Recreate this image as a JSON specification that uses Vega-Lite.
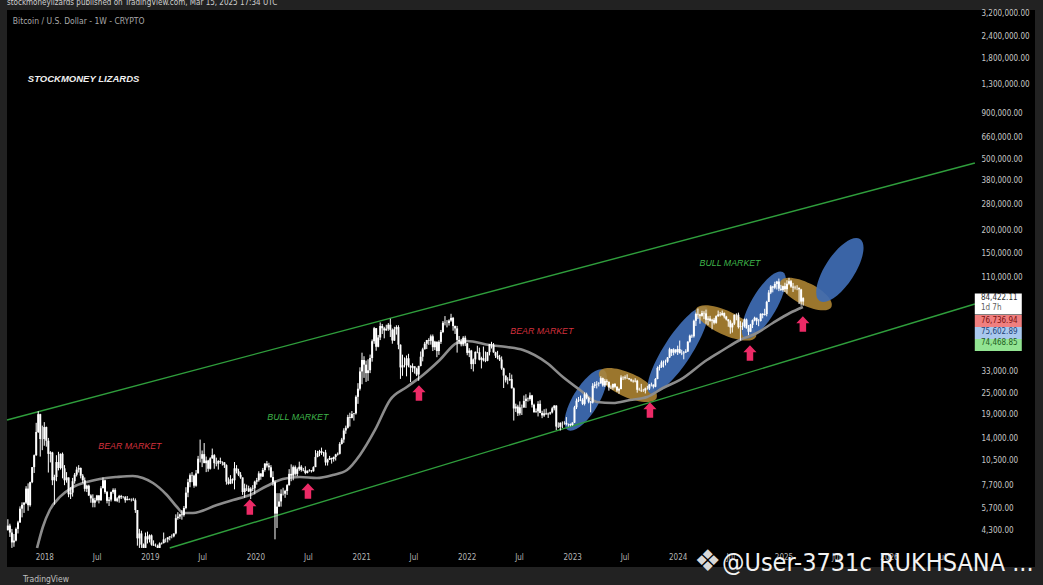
{
"$schema":"https://vega.github.io/schema/vega-lite/v6.json",
"autosize":"none",
"width":1028,"height":557,
"padding":{"left":7,"top":10,"right":8,"bottom":18},
"background":"#222222",
"config":{"view":{"fill":"black","stroke":null}},
"datasets":{
"btc":[
{"t":"2017-08-28","o":4340,"h":4980,"l":4300,"c":4590},
{"t":"2017-09-04","o":4590,"h":4700,"l":3970,"c":4200},
{"t":"2017-09-11","o":4200,"h":4400,"l":3450,"c":3700},
{"t":"2017-09-18","o":3700,"h":4120,"l":3500,"c":3790},
{"t":"2017-09-25","o":3790,"h":4480,"l":3750,"c":4400},
{"t":"2017-10-02","o":4400,"h":4880,"l":4150,"c":4780},
{"t":"2017-10-09","o":4780,"h":5870,"l":4750,"c":5700},
{"t":"2017-10-16","o":5700,"h":6180,"l":5100,"c":5990},
{"t":"2017-10-23","o":5990,"h":6200,"l":5400,"c":6150},
{"t":"2017-10-30","o":6150,"h":7600,"l":6050,"c":7370},
{"t":"2017-11-06","o":7370,"h":7880,"l":5550,"c":5960},
{"t":"2017-11-13","o":5960,"h":8050,"l":5850,"c":8000},
{"t":"2017-11-20","o":8000,"h":9700,"l":7900,"c":9700},
{"t":"2017-11-27","o":9700,"h":11400,"l":9000,"c":11300},
{"t":"2017-12-04","o":11300,"h":17100,"l":11200,"c":15200},
{"t":"2017-12-11","o":15200,"h":19850,"l":15000,"c":19100},
{"t":"2017-12-18","o":19100,"h":19200,"l":11100,"c":13900},
{"t":"2017-12-25","o":13900,"h":16500,"l":12050,"c":13880},
{"t":"2018-01-01","o":13880,"h":17250,"l":12750,"c":16200},
{"t":"2018-01-08","o":16200,"h":16300,"l":12600,"c":13600},
{"t":"2018-01-15","o":13600,"h":14100,"l":9050,"c":11500},
{"t":"2018-01-22","o":11500,"h":11900,"l":10300,"c":11700},
{"t":"2018-01-29","o":11700,"h":11800,"l":7700,"c":8200},
{"t":"2018-02-05","o":8200,"h":8800,"l":6000,"c":8550},
{"t":"2018-02-12","o":8550,"h":11300,"l":8100,"c":10350},
{"t":"2018-02-19","o":10350,"h":11800,"l":9300,"c":9600},
{"t":"2018-02-26","o":9600,"h":11550,"l":9400,"c":11500},
{"t":"2018-03-05","o":11500,"h":11700,"l":8400,"c":9550},
{"t":"2018-03-12","o":9550,"h":9950,"l":7700,"c":8200},
{"t":"2018-03-19","o":8200,"h":9100,"l":7950,"c":8500},
{"t":"2018-03-26","o":8500,"h":8500,"l":6600,"c":6850},
{"t":"2018-04-02","o":6850,"h":7500,"l":6450,"c":7000},
{"t":"2018-04-09","o":7000,"h":8450,"l":6650,"c":8100},
{"t":"2018-04-16","o":8100,"h":9000,"l":7850,"c":8800},
{"t":"2018-04-23","o":8800,"h":9750,"l":8600,"c":9400},
{"t":"2018-04-30","o":9400,"h":9950,"l":9050,"c":9600},
{"t":"2018-05-07","o":9600,"h":9650,"l":8400,"c":8700},
{"t":"2018-05-14","o":8700,"h":8880,"l":7900,"c":8200},
{"t":"2018-05-21","o":8200,"h":8500,"l":7100,"c":7350},
{"t":"2018-05-28","o":7350,"h":7750,"l":7050,"c":7650},
{"t":"2018-06-04","o":7650,"h":7750,"l":6700,"c":6750},
{"t":"2018-06-11","o":6750,"h":6850,"l":6150,"c":6500},
{"t":"2018-06-18","o":6500,"h":6850,"l":5800,"c":6150},
{"t":"2018-06-25","o":6150,"h":6550,"l":5800,"c":6350},
{"t":"2018-07-02","o":6350,"h":6800,"l":6250,"c":6750},
{"t":"2018-07-09","o":6750,"h":6780,"l":6100,"c":6350},
{"t":"2018-07-16","o":6350,"h":7600,"l":6300,"c":7400},
{"t":"2018-07-23","o":7400,"h":8500,"l":7400,"c":8200},
{"t":"2018-07-30","o":8200,"h":8250,"l":6900,"c":7050},
{"t":"2018-08-06","o":7050,"h":7150,"l":6100,"c":6300},
{"t":"2018-08-13","o":6300,"h":6620,"l":5900,"c":6400},
{"t":"2018-08-20","o":6400,"h":7100,"l":6250,"c":7050},
{"t":"2018-08-27","o":7050,"h":7400,"l":6900,"c":7250},
{"t":"2018-09-03","o":7250,"h":7400,"l":6250,"c":6300},
{"t":"2018-09-10","o":6300,"h":6600,"l":6200,"c":6500},
{"t":"2018-09-17","o":6500,"h":6800,"l":6150,"c":6700},
{"t":"2018-09-24","o":6700,"h":6800,"l":6450,"c":6600},
{"t":"2018-10-01","o":6600,"h":6700,"l":6500,"c":6600},
{"t":"2018-10-08","o":6600,"h":6700,"l":6150,"c":6350},
{"t":"2018-10-15","o":6350,"h":6700,"l":6350,"c":6450},
{"t":"2018-10-22","o":6450,"h":6500,"l":6350,"c":6400},
{"t":"2018-10-29","o":6400,"h":6500,"l":6250,"c":6400},
{"t":"2018-11-05","o":6400,"h":6550,"l":6300,"c":6350},
{"t":"2018-11-12","o":6350,"h":6500,"l":5400,"c":5600},
{"t":"2018-11-19","o":5600,"h":5600,"l":3550,"c":3900},
{"t":"2018-11-26","o":3900,"h":4400,"l":3450,"c":4150},
{"t":"2018-12-03","o":4150,"h":4300,"l":3450,"c":3600},
{"t":"2018-12-10","o":3600,"h":3650,"l":3450,"c":3450},
{"t":"2018-12-17","o":3450,"h":4200,"l":3450,"c":4000},
{"t":"2018-12-24","o":4000,"h":4250,"l":3650,"c":3850},
{"t":"2018-12-31","o":3850,"h":4100,"l":3700,"c":4050},
{"t":"2019-01-07","o":4050,"h":4100,"l":3550,"c":3600},
{"t":"2019-01-14","o":3600,"h":3800,"l":3550,"c":3550},
{"t":"2019-01-21","o":3550,"h":3650,"l":3500,"c":3550},
{"t":"2019-01-28","o":3550,"h":3600,"l":3450,"c":3450},
{"t":"2019-02-04","o":3450,"h":3700,"l":3450,"c":3650},
{"t":"2019-02-11","o":3650,"h":3700,"l":3600,"c":3670},
{"t":"2019-02-18","o":3670,"h":4200,"l":3650,"c":3850},
{"t":"2019-02-25","o":3850,"h":3900,"l":3700,"c":3850},
{"t":"2019-03-04","o":3850,"h":3950,"l":3700,"c":3950},
{"t":"2019-03-11","o":3950,"h":4000,"l":3800,"c":4000},
{"t":"2019-03-18","o":4000,"h":4100,"l":3900,"c":4000},
{"t":"2019-03-25","o":4000,"h":4150,"l":3950,"c":4150},
{"t":"2019-04-01","o":4150,"h":5300,"l":4100,"c":5050},
{"t":"2019-04-08","o":5050,"h":5450,"l":4950,"c":5150},
{"t":"2019-04-15","o":5150,"h":5350,"l":5000,"c":5300},
{"t":"2019-04-22","o":5300,"h":5600,"l":4950,"c":5250},
{"t":"2019-04-29","o":5250,"h":5900,"l":5150,"c":5750},
{"t":"2019-05-06","o":5750,"h":7500,"l":5650,"c":7000},
{"t":"2019-05-13","o":7000,"h":8350,"l":6600,"c":8000},
{"t":"2019-05-20","o":8000,"h":8950,"l":7500,"c":8750},
{"t":"2019-05-27","o":8750,"h":9100,"l":8000,"c":8700},
{"t":"2019-06-03","o":8700,"h":8800,"l":7450,"c":7650},
{"t":"2019-06-10","o":7650,"h":9350,"l":7550,"c":8950},
{"t":"2019-06-17","o":8950,"h":11200,"l":8950,"c":10800},
{"t":"2019-06-24","o":10800,"h":13800,"l":10300,"c":10800},
{"t":"2019-07-01","o":10800,"h":12000,"l":9700,"c":11450},
{"t":"2019-07-08","o":11450,"h":13200,"l":10300,"c":10200},
{"t":"2019-07-15","o":10200,"h":11100,"l":9100,"c":10550},
{"t":"2019-07-22","o":10550,"h":10650,"l":9150,"c":9500},
{"t":"2019-07-29","o":9500,"h":11000,"l":9400,"c":10850},
{"t":"2019-08-05","o":10850,"h":12300,"l":10800,"c":11300},
{"t":"2019-08-12","o":11300,"h":11450,"l":9500,"c":10200},
{"t":"2019-08-19","o":10200,"h":10950,"l":9800,"c":10150},
{"t":"2019-08-26","o":10150,"h":10600,"l":9400,"c":10500},
{"t":"2019-09-02","o":10500,"h":10950,"l":10100,"c":10350},
{"t":"2019-09-09","o":10350,"h":10450,"l":9900,"c":10300},
{"t":"2019-09-16","o":10300,"h":10350,"l":9600,"c":9950},
{"t":"2019-09-23","o":9950,"h":10050,"l":7750,"c":8050},
{"t":"2019-09-30","o":8050,"h":8500,"l":7750,"c":7850},
{"t":"2019-10-07","o":7850,"h":8750,"l":7800,"c":8300},
{"t":"2019-10-14","o":8300,"h":8400,"l":7850,"c":8200},
{"t":"2019-10-21","o":8200,"h":10350,"l":7300,"c":9550},
{"t":"2019-10-28","o":9550,"h":9950,"l":8950,"c":9200},
{"t":"2019-11-04","o":9200,"h":9500,"l":8650,"c":8800},
{"t":"2019-11-11","o":8800,"h":9100,"l":8350,"c":8500},
{"t":"2019-11-18","o":8500,"h":8500,"l":6800,"c":7050},
{"t":"2019-11-25","o":7050,"h":7850,"l":6550,"c":7400},
{"t":"2019-12-02","o":7400,"h":7750,"l":7150,"c":7400},
{"t":"2019-12-09","o":7400,"h":7650,"l":7050,"c":7100},
{"t":"2019-12-16","o":7100,"h":7500,"l":6450,"c":7350},
{"t":"2019-12-23","o":7350,"h":7700,"l":7150,"c":7400},
{"t":"2019-12-30","o":7400,"h":8150,"l":6850,"c":8050},
{"t":"2020-01-06","o":8050,"h":8450,"l":7750,"c":8200},
{"t":"2020-01-13","o":8200,"h":9200,"l":8050,"c":8950},
{"t":"2020-01-20","o":8950,"h":8950,"l":8250,"c":8600},
{"t":"2020-01-27","o":8600,"h":9600,"l":8550,"c":9350},
{"t":"2020-02-03","o":9350,"h":10200,"l":9150,"c":10150},
{"t":"2020-02-10","o":10150,"h":10500,"l":9650,"c":9900},
{"t":"2020-02-17","o":9900,"h":10250,"l":9300,"c":9680},
{"t":"2020-02-24","o":9680,"h":9950,"l":8450,"c":8550},
{"t":"2020-03-02","o":8550,"h":9200,"l":7650,"c":8000},
{"t":"2020-03-09","o":8000,"h":8200,"l":3850,"c":5350},
{"t":"2020-03-16","o":5350,"h":6950,"l":4450,"c":5850},
{"t":"2020-03-23","o":5850,"h":6950,"l":5850,"c":6250},
{"t":"2020-03-30","o":6250,"h":7300,"l":5850,"c":6900},
{"t":"2020-04-06","o":6900,"h":7450,"l":6750,"c":6900},
{"t":"2020-04-13","o":6900,"h":7250,"l":6550,"c":7150},
{"t":"2020-04-20","o":7150,"h":7800,"l":6800,"c":7700},
{"t":"2020-04-27","o":7700,"h":9450,"l":7650,"c":8900},
{"t":"2020-05-04","o":8900,"h":10050,"l":8100,"c":8700},
{"t":"2020-05-11","o":8700,"h":9900,"l":8200,"c":9700},
{"t":"2020-05-18","o":9700,"h":9900,"l":8700,"c":8900},
{"t":"2020-05-25","o":8900,"h":9650,"l":8650,"c":9450},
{"t":"2020-06-01","o":9450,"h":10400,"l":9250,"c":9750},
{"t":"2020-06-08","o":9750,"h":9950,"l":9150,"c":9350},
{"t":"2020-06-15","o":9350,"h":9600,"l":9200,"c":9300},
{"t":"2020-06-22","o":9300,"h":9800,"l":8850,"c":9000},
{"t":"2020-06-29","o":9000,"h":9300,"l":8950,"c":9250},
{"t":"2020-07-06","o":9250,"h":9450,"l":9150,"c":9300},
{"t":"2020-07-13","o":9300,"h":9350,"l":9050,"c":9200},
{"t":"2020-07-20","o":9200,"h":9800,"l":9150,"c":9700},
{"t":"2020-07-27","o":9700,"h":12050,"l":9700,"c":11050},
{"t":"2020-08-03","o":11050,"h":11950,"l":11000,"c":11600},
{"t":"2020-08-10","o":11600,"h":12100,"l":11150,"c":11900},
{"t":"2020-08-17","o":11900,"h":12450,"l":11350,"c":11650},
{"t":"2020-08-24","o":11650,"h":11800,"l":11100,"c":11700},
{"t":"2020-08-31","o":11700,"h":12100,"l":9900,"c":10300},
{"t":"2020-09-07","o":10300,"h":10800,"l":9900,"c":10650},
{"t":"2020-09-14","o":10650,"h":11200,"l":10650,"c":10900},
{"t":"2020-09-21","o":10900,"h":10950,"l":10150,"c":10750},
{"t":"2020-09-28","o":10750,"h":11100,"l":10400,"c":11050},
{"t":"2020-10-05","o":11050,"h":11500,"l":10550,"c":11400},
{"t":"2020-10-12","o":11400,"h":11700,"l":11250,"c":11500},
{"t":"2020-10-19","o":11500,"h":13350,"l":11400,"c":13050},
{"t":"2020-10-26","o":13050,"h":14100,"l":12950,"c":13800},
{"t":"2020-11-02","o":13800,"h":15950,"l":13250,"c":15500},
{"t":"2020-11-09","o":15500,"h":16500,"l":14850,"c":16050},
{"t":"2020-11-16","o":16050,"h":18950,"l":15900,"c":18400},
{"t":"2020-11-23","o":18400,"h":19450,"l":16300,"c":18200},
{"t":"2020-11-30","o":18200,"h":19900,"l":18100,"c":19150},
{"t":"2020-12-07","o":19150,"h":19400,"l":17600,"c":19300},
{"t":"2020-12-14","o":19300,"h":24300,"l":19000,"c":23850},
{"t":"2020-12-21","o":23850,"h":28400,"l":21800,"c":26450},
{"t":"2020-12-28","o":26450,"h":34800,"l":25850,"c":33000},
{"t":"2021-01-04","o":33000,"h":41950,"l":28000,"c":38200},
{"t":"2021-01-11","o":38200,"h":40100,"l":30400,"c":36000},
{"t":"2021-01-18","o":36000,"h":37900,"l":28850,"c":32300},
{"t":"2021-01-25","o":32300,"h":38550,"l":29250,"c":33500},
{"t":"2021-02-01","o":33500,"h":40950,"l":32300,"c":39200},
{"t":"2021-02-08","o":39200,"h":49700,"l":37400,"c":48600},
{"t":"2021-02-15","o":48600,"h":58350,"l":47000,"c":57400},
{"t":"2021-02-22","o":57400,"h":57500,"l":43000,"c":45250},
{"t":"2021-03-01","o":45250,"h":52650,"l":44950,"c":50950},
{"t":"2021-03-08","o":50950,"h":61800,"l":49300,"c":59000},
{"t":"2021-03-15","o":59000,"h":60600,"l":53300,"c":57350},
{"t":"2021-03-22","o":57350,"h":58400,"l":50400,"c":55800},
{"t":"2021-03-29","o":55800,"h":60000,"l":55600,"c":57000},
{"t":"2021-04-05","o":57000,"h":61300,"l":55500,"c":60000},
{"t":"2021-04-12","o":60000,"h":64850,"l":51300,"c":56200},
{"t":"2021-04-19","o":56200,"h":57200,"l":47050,"c":49050},
{"t":"2021-04-26","o":49050,"h":58450,"l":48750,"c":56600},
{"t":"2021-05-03","o":56600,"h":59600,"l":52850,"c":58250},
{"t":"2021-05-10","o":58250,"h":59600,"l":43850,"c":46450},
{"t":"2021-05-17","o":46450,"h":46650,"l":30000,"c":34750},
{"t":"2021-05-24","o":34750,"h":40900,"l":31200,"c":35700},
{"t":"2021-05-31","o":35700,"h":39500,"l":34750,"c":35800},
{"t":"2021-06-07","o":35800,"h":40500,"l":31000,"c":39050},
{"t":"2021-06-14","o":39050,"h":41350,"l":34800,"c":35500},
{"t":"2021-06-21","o":35500,"h":35700,"l":28800,"c":34650},
{"t":"2021-06-28","o":34650,"h":36600,"l":32700,"c":35300},
{"t":"2021-07-05","o":35300,"h":35100,"l":32100,"c":34250},
{"t":"2021-07-12","o":34250,"h":34650,"l":31100,"c":31750},
{"t":"2021-07-19","o":31750,"h":35500,"l":29300,"c":35400},
{"t":"2021-07-26","o":35400,"h":42600,"l":35200,"c":39850},
{"t":"2021-08-02","o":39850,"h":44700,"l":37550,"c":43800},
{"t":"2021-08-09","o":43800,"h":48150,"l":43750,"c":47050},
{"t":"2021-08-16","o":47050,"h":49400,"l":43950,"c":49300},
{"t":"2021-08-23","o":49300,"h":50500,"l":46350,"c":48850},
{"t":"2021-08-30","o":48850,"h":52900,"l":46500,"c":51750},
{"t":"2021-09-06","o":51750,"h":52950,"l":42850,"c":45000},
{"t":"2021-09-13","o":45000,"h":48850,"l":43400,"c":48300},
{"t":"2021-09-20","o":48300,"h":48350,"l":39600,"c":42850},
{"t":"2021-09-27","o":42850,"h":49200,"l":40800,"c":48200},
{"t":"2021-10-04","o":48200,"h":56100,"l":46900,"c":54650},
{"t":"2021-10-11","o":54650,"h":62900,"l":53900,"c":61550},
{"t":"2021-10-18","o":61550,"h":67000,"l":59500,"c":61300},
{"t":"2021-10-25","o":61300,"h":63700,"l":58000,"c":61300},
{"t":"2021-11-01","o":61300,"h":64300,"l":59400,"c":63300},
{"t":"2021-11-08","o":63300,"h":69000,"l":62300,"c":65500},
{"t":"2021-11-15","o":65500,"h":66300,"l":55600,"c":59000},
{"t":"2021-11-22","o":59000,"h":59400,"l":53300,"c":57250},
{"t":"2021-11-29","o":57250,"h":59100,"l":42000,"c":49400},
{"t":"2021-12-06","o":49400,"h":51950,"l":46800,"c":48400},
{"t":"2021-12-13","o":48400,"h":50050,"l":45500,"c":46700},
{"t":"2021-12-20","o":46700,"h":51850,"l":45600,"c":50800},
{"t":"2021-12-27","o":50800,"h":52100,"l":45650,"c":47300},
{"t":"2022-01-03","o":47300,"h":47550,"l":40600,"c":41850},
{"t":"2022-01-10","o":41850,"h":44450,"l":39650,"c":43100},
{"t":"2022-01-17","o":43100,"h":43500,"l":34000,"c":36250},
{"t":"2022-01-24","o":36250,"h":38950,"l":33000,"c":38500},
{"t":"2022-01-31","o":38500,"h":42650,"l":36250,"c":42400},
{"t":"2022-02-07","o":42400,"h":45850,"l":41650,"c":42200},
{"t":"2022-02-14","o":42200,"h":44750,"l":38000,"c":38350},
{"t":"2022-02-21","o":38350,"h":39850,"l":34300,"c":39100},
{"t":"2022-02-28","o":39100,"h":45400,"l":37500,"c":38050},
{"t":"2022-03-07","o":38050,"h":42600,"l":37150,"c":37800},
{"t":"2022-03-14","o":37800,"h":42350,"l":37600,"c":42200},
{"t":"2022-03-21","o":42200,"h":46900,"l":40500,"c":46800},
{"t":"2022-03-28","o":46800,"h":48200,"l":44250,"c":46400},
{"t":"2022-04-04","o":46400,"h":47450,"l":41900,"c":42150},
{"t":"2022-04-11","o":42150,"h":42450,"l":39200,"c":40400},
{"t":"2022-04-18","o":40400,"h":42950,"l":38550,"c":39450},
{"t":"2022-04-25","o":39450,"h":40800,"l":37700,"c":38450},
{"t":"2022-05-02","o":38450,"h":40000,"l":33700,"c":34300},
{"t":"2022-05-09","o":34300,"h":34600,"l":26700,"c":31300},
{"t":"2022-05-16","o":31300,"h":31300,"l":28650,"c":29450},
{"t":"2022-05-23","o":29450,"h":30650,"l":28000,"c":29450},
{"t":"2022-05-30","o":29450,"h":32400,"l":29250,"c":29900},
{"t":"2022-06-06","o":29900,"h":31700,"l":26550,"c":26600},
{"t":"2022-06-13","o":26600,"h":26900,"l":17600,"c":20550},
{"t":"2022-06-20","o":20550,"h":21850,"l":19650,"c":21050},
{"t":"2022-06-27","o":21050,"h":21550,"l":18650,"c":19300},
{"t":"2022-07-04","o":19300,"h":22500,"l":18800,"c":20850},
{"t":"2022-07-11","o":20850,"h":21600,"l":18900,"c":20800},
{"t":"2022-07-18","o":20800,"h":24250,"l":20750,"c":22600},
{"t":"2022-07-25","o":22600,"h":24650,"l":20700,"c":23300},
{"t":"2022-08-01","o":23300,"h":23650,"l":22450,"c":23200},
{"t":"2022-08-08","o":23200,"h":25200,"l":22700,"c":24300},
{"t":"2022-08-15","o":24300,"h":24450,"l":20800,"c":21550},
{"t":"2022-08-22","o":21550,"h":21850,"l":19550,"c":19550},
{"t":"2022-08-29","o":19550,"h":20550,"l":19550,"c":19800},
{"t":"2022-09-05","o":19800,"h":22550,"l":18550,"c":21800},
{"t":"2022-09-12","o":21800,"h":22800,"l":19350,"c":19400},
{"t":"2022-09-19","o":19400,"h":19950,"l":18150,"c":18800},
{"t":"2022-09-26","o":18800,"h":20350,"l":18450,"c":19300},
{"t":"2022-10-03","o":19300,"h":20500,"l":19000,"c":19050},
{"t":"2022-10-10","o":19050,"h":19500,"l":18200,"c":19250},
{"t":"2022-10-17","o":19250,"h":19700,"l":18950,"c":19550},
{"t":"2022-10-24","o":19550,"h":21000,"l":19300,"c":20600},
{"t":"2022-10-31","o":20600,"h":21450,"l":20050,"c":21300},
{"t":"2022-11-07","o":21300,"h":21450,"l":15600,"c":16300},
{"t":"2022-11-14","o":16300,"h":17200,"l":16000,"c":16250},
{"t":"2022-11-21","o":16250,"h":17200,"l":15500,"c":17100},
{"t":"2022-11-28","o":17100,"h":17400,"l":16000,"c":17100},
{"t":"2022-12-05","o":17100,"h":17450,"l":16700,"c":17100},
{"t":"2022-12-12","o":17100,"h":18400,"l":16550,"c":16800},
{"t":"2022-12-19","o":16800,"h":16950,"l":16300,"c":16850},
{"t":"2022-12-26","o":16850,"h":16950,"l":16350,"c":16600},
{"t":"2023-01-02","o":16600,"h":17200,"l":16500,"c":17150},
{"t":"2023-01-09","o":17150,"h":21250,"l":17050,"c":20850},
{"t":"2023-01-16","o":20850,"h":23350,"l":20400,"c":22700},
{"t":"2023-01-23","o":22700,"h":23800,"l":22300,"c":23000},
{"t":"2023-01-30","o":23000,"h":24250,"l":22550,"c":22950},
{"t":"2023-02-06","o":22950,"h":23450,"l":21450,"c":21800},
{"t":"2023-02-13","o":21800,"h":25250,"l":21350,"c":24600},
{"t":"2023-02-20","o":24600,"h":25150,"l":23100,"c":23550},
{"t":"2023-02-27","o":23550,"h":23900,"l":21950,"c":22400},
{"t":"2023-03-06","o":22400,"h":22600,"l":19550,"c":22150},
{"t":"2023-03-13","o":22150,"h":28400,"l":21900,"c":27450},
{"t":"2023-03-20","o":27450,"h":28850,"l":26650,"c":27950},
{"t":"2023-03-27","o":27950,"h":29150,"l":26550,"c":28150},
{"t":"2023-04-03","o":28150,"h":28800,"l":27250,"c":28300},
{"t":"2023-04-10","o":28300,"h":31000,"l":28200,"c":30300},
{"t":"2023-04-17","o":30300,"h":30500,"l":27150,"c":27600},
{"t":"2023-04-24","o":27600,"h":30000,"l":27050,"c":29250},
{"t":"2023-05-01","o":29250,"h":29850,"l":27700,"c":28900},
{"t":"2023-05-08","o":28900,"h":29000,"l":25800,"c":26900},
{"t":"2023-05-15","o":26900,"h":27600,"l":26350,"c":26850},
{"t":"2023-05-22","o":26850,"h":28250,"l":26100,"c":28100},
{"t":"2023-05-29","o":28100,"h":28450,"l":26600,"c":27100},
{"t":"2023-06-05","o":27100,"h":27350,"l":25350,"c":25850},
{"t":"2023-06-12","o":25850,"h":26800,"l":24800,"c":26350},
{"t":"2023-06-19","o":26350,"h":31400,"l":26250,"c":30550},
{"t":"2023-06-26","o":30550,"h":31000,"l":29550,"c":30600},
{"t":"2023-07-03","o":30600,"h":31400,"l":29750,"c":30300},
{"t":"2023-07-10","o":30300,"h":31800,"l":30000,"c":30250},
{"t":"2023-07-17","o":30250,"h":30350,"l":29550,"c":29850},
{"t":"2023-07-24","o":29850,"h":30100,"l":28900,"c":29300},
{"t":"2023-07-31","o":29300,"h":29700,"l":28600,"c":29050},
{"t":"2023-08-07","o":29050,"h":30250,"l":28700,"c":29300},
{"t":"2023-08-14","o":29300,"h":29650,"l":25150,"c":26100},
{"t":"2023-08-21","o":26100,"h":26800,"l":25800,"c":26000},
{"t":"2023-08-28","o":26000,"h":28150,"l":25350,"c":25850},
{"t":"2023-09-04","o":25850,"h":26400,"l":25400,"c":25850},
{"t":"2023-09-11","o":25850,"h":26850,"l":24900,"c":26550},
{"t":"2023-09-18","o":26550,"h":27450,"l":26150,"c":26500},
{"t":"2023-09-25","o":26500,"h":28050,"l":26000,"c":27950},
{"t":"2023-10-02","o":27950,"h":28600,"l":27250,"c":27900},
{"t":"2023-10-09","o":27900,"h":27950,"l":26550,"c":27150},
{"t":"2023-10-16","o":27150,"h":30350,"l":26950,"c":29950},
{"t":"2023-10-23","o":29950,"h":35200,"l":29850,"c":34500},
{"t":"2023-10-30","o":34500,"h":35950,"l":33400,"c":35000},
{"t":"2023-11-06","o":35000,"h":37950,"l":34550,"c":37050},
{"t":"2023-11-13","o":37050,"h":37950,"l":34700,"c":37350},
{"t":"2023-11-20","o":37350,"h":38400,"l":35650,"c":37450},
{"t":"2023-11-27","o":37450,"h":39700,"l":36850,"c":39450},
{"t":"2023-12-04","o":39450,"h":44700,"l":39200,"c":43800},
{"t":"2023-12-11","o":43800,"h":44000,"l":40200,"c":41950},
{"t":"2023-12-18","o":41950,"h":44400,"l":40550,"c":43700},
{"t":"2023-12-25","o":43700,"h":43850,"l":41500,"c":42250},
{"t":"2024-01-01","o":42250,"h":45900,"l":40750,"c":43950},
{"t":"2024-01-08","o":43950,"h":49000,"l":41500,"c":41750},
{"t":"2024-01-15","o":41750,"h":43550,"l":40650,"c":41600},
{"t":"2024-01-22","o":41600,"h":42850,"l":38550,"c":42050},
{"t":"2024-01-29","o":42050,"h":43850,"l":41800,"c":42600},
{"t":"2024-02-05","o":42600,"h":48600,"l":42300,"c":48300},
{"t":"2024-02-12","o":48300,"h":52850,"l":47700,"c":52150},
{"t":"2024-02-19","o":52150,"h":52950,"l":50650,"c":51750},
{"t":"2024-02-26","o":51750,"h":64000,"l":50900,"c":63100},
{"t":"2024-03-04","o":63100,"h":70150,"l":59050,"c":68950},
{"t":"2024-03-11","o":68950,"h":73800,"l":64550,"c":68400},
{"t":"2024-03-18","o":68400,"h":68950,"l":60800,"c":67250},
{"t":"2024-03-25","o":67250,"h":71700,"l":66550,"c":69700},
{"t":"2024-04-01","o":69700,"h":71300,"l":64500,"c":69400},
{"t":"2024-04-08","o":69400,"h":72800,"l":60700,"c":63900},
{"t":"2024-04-15","o":63900,"h":66900,"l":59600,"c":64950},
{"t":"2024-04-22","o":64950,"h":67250,"l":62400,"c":63100},
{"t":"2024-04-29","o":63100,"h":64750,"l":56550,"c":63950},
{"t":"2024-05-06","o":63950,"h":65500,"l":60200,"c":61500},
{"t":"2024-05-13","o":61500,"h":67700,"l":60750,"c":66950},
{"t":"2024-05-20","o":66950,"h":71950,"l":66300,"c":68500},
{"t":"2024-05-27","o":68500,"h":70600,"l":66650,"c":67750},
{"t":"2024-06-03","o":67750,"h":71950,"l":67450,"c":69650},
{"t":"2024-06-10","o":69650,"h":70200,"l":65050,"c":66650},
{"t":"2024-06-17","o":66650,"h":67250,"l":63400,"c":64250},
{"t":"2024-06-24","o":64250,"h":64500,"l":58450,"c":62700},
{"t":"2024-07-01","o":62700,"h":63850,"l":53500,"c":58000},
{"t":"2024-07-08","o":58000,"h":61500,"l":54300,"c":60800},
{"t":"2024-07-15","o":60800,"h":68350,"l":59700,"c":68150},
{"t":"2024-07-22","o":68150,"h":69400,"l":63500,"c":68250},
{"t":"2024-07-29","o":68250,"h":70050,"l":57150,"c":58200},
{"t":"2024-08-05","o":58200,"h":62750,"l":49050,"c":58700},
{"t":"2024-08-12","o":58700,"h":61800,"l":56150,"c":58950},
{"t":"2024-08-19","o":58950,"h":65000,"l":57800,"c":64200},
{"t":"2024-08-26","o":64200,"h":64950,"l":57150,"c":57300},
{"t":"2024-09-02","o":57300,"h":59800,"l":52550,"c":54850},
{"t":"2024-09-09","o":54850,"h":60650,"l":54600,"c":59950},
{"t":"2024-09-16","o":59950,"h":64150,"l":57500,"c":63600},
{"t":"2024-09-23","o":63600,"h":66500,"l":62700,"c":65600},
{"t":"2024-09-30","o":65600,"h":65600,"l":59850,"c":62800},
{"t":"2024-10-07","o":62800,"h":64450,"l":58900,"c":62900},
{"t":"2024-10-14","o":62900,"h":69400,"l":62500,"c":69000},
{"t":"2024-10-21","o":69000,"h":69500,"l":65100,"c":67900},
{"t":"2024-10-28","o":67900,"h":73600,"l":67450,"c":68750},
{"t":"2024-11-04","o":68750,"h":81500,"l":66800,"c":80400},
{"t":"2024-11-11","o":80400,"h":93450,"l":80250,"c":90600},
{"t":"2024-11-18","o":90600,"h":99600,"l":88800,"c":97900},
{"t":"2024-11-25","o":97900,"h":98700,"l":90800,"c":96400},
{"t":"2024-12-02","o":96400,"h":104000,"l":94500,"c":101100},
{"t":"2024-12-09","o":101100,"h":105250,"l":94150,"c":104300},
{"t":"2024-12-16","o":104300,"h":108350,"l":92200,"c":95150},
{"t":"2024-12-23","o":95150,"h":99950,"l":92500,"c":93700},
{"t":"2024-12-30","o":93700,"h":98950,"l":91550,"c":98350},
{"t":"2025-01-06","o":98350,"h":102750,"l":91200,"c":94500},
{"t":"2025-01-13","o":94500,"h":106000,"l":89250,"c":101300},
{"t":"2025-01-20","o":101300,"h":109350,"l":99500,"c":104750},
{"t":"2025-01-27","o":104750,"h":106450,"l":96200,"c":97700},
{"t":"2025-02-03","o":97700,"h":102500,"l":91250,"c":96500},
{"t":"2025-02-10","o":96500,"h":98900,"l":94100,"c":96150},
{"t":"2025-02-17","o":96150,"h":99500,"l":93350,"c":96250},
{"t":"2025-02-24","o":96250,"h":96500,"l":78200,"c":94300},
{"t":"2025-03-03","o":94300,"h":95000,"l":76600,"c":80700},
{"t":"2025-03-10","o":80700,"h":85300,"l":76550,"c":84400}
]},
"encoding":{
"x":{"field":"t","type":"temporal","title":null,"scale":{"type":"utc","domain":[{"year":2017,"month":8,"date":25,"utc":true},{"year":2027,"month":5,"date":21,"utc":true}],"nice":false},"axis":{"orient":"bottom","offset":-19,"values":[{"year":2018,"month":1,"date":1,"utc":true},{"year":2018,"month":7,"date":1,"utc":true},{"year":2019,"month":1,"date":1,"utc":true},{"year":2019,"month":7,"date":1,"utc":true},{"year":2020,"month":1,"date":1,"utc":true},{"year":2020,"month":7,"date":1,"utc":true},{"year":2021,"month":1,"date":1,"utc":true},{"year":2021,"month":7,"date":1,"utc":true},{"year":2022,"month":1,"date":1,"utc":true},{"year":2022,"month":7,"date":1,"utc":true},{"year":2023,"month":1,"date":1,"utc":true},{"year":2023,"month":7,"date":1,"utc":true},{"year":2024,"month":1,"date":1,"utc":true},{"year":2024,"month":7,"date":1,"utc":true},{"year":2025,"month":1,"date":1,"utc":true},{"year":2025,"month":7,"date":1,"utc":true},{"year":2026,"month":1,"date":1,"utc":true},{"year":2026,"month":7,"date":1,"utc":true}],"labelExpr":"utcFormat(datum.value, '%m') == '01' ? utcFormat(datum.value, '%Y') : utcFormat(datum.value, '%b')","title":null,"domain":false,"ticks":false,"tickSize":0,"grid":false,"labelPadding":9.5,"labelBaseline":"middle","labelFont":"DejaVu Sans Condensed, DejaVu Sans, sans-serif","labelFontSize":8,"labelColor":"#b5b5b5","labelFlush":false,"labelOverlap":false,"labelBound":false,"zindex":0}},
"y":{"field":"p","type":"quantitative","title":null,"scale":{"type":"log","domain":[2702,3367800],"nice":false},"axis":{"orient":"right","offset":-60,"values":[3200000,2400000,1800000,1300000,900000,660000,500000,380000,280000,200000,150000,110000,33000,25000,19000,14000,10500,7700,5700,4300],"format":",.2f","title":null,"domain":false,"ticks":false,"tickSize":0,"grid":false,"labelPadding":6,"labelAlign":"left","labelBaseline":"middle","labelFont":"DejaVu Sans Condensed, DejaVu Sans, sans-serif","labelFontSize":8,"labelColor":"#c8c8c8","labelOverlap":false,"labelBound":false,"labelFlush":false,"zindex":0}}
},
"layer":[
{"data":{"values":[{"t":"2023-02-17","p":22898}]},"mark":{"type":"point","shape":"M-1,0C-1,-0.204,-0.552,-0.37,0,-0.37C0.552,-0.37,1,-0.204,1,0C1,0.204,0.552,0.37,0,0.37C-0.552,0.37,-1,0.204,-1,0Z","size":4900,"angle":-59,"filled":true,"color":"#3f6db4","opacity":0.92,"strokeWidth":0}},
{"data":{"values":[{"t":"2023-07-13","p":27750}]},"mark":{"type":"point","shape":"M-1,0C-1,-0.21,-0.552,-0.38,0,-0.38C0.552,-0.38,1,-0.21,1,0C1,0.21,0.552,0.38,0,0.38C-0.552,0.38,-1,0.21,-1,0Z","size":3969,"angle":24.5,"filled":true,"color":"#b08633","opacity":0.88,"strokeWidth":0}},
{"data":{"values":[{"t":"2024-01-02","p":43428}]},"mark":{"type":"point","shape":"M-1,0C-1,-0.149,-0.552,-0.27,0,-0.27C0.552,-0.27,1,-0.149,1,0C1,0.149,0.552,0.27,0,0.27C-0.552,0.27,-1,0.149,-1,0Z","size":10609,"angle":-57,"filled":true,"color":"#3f6db4","opacity":0.92,"strokeWidth":0}},
{"data":{"values":[{"t":"2024-06-16","p":61352}]},"mark":{"type":"point","shape":"M-1,0C-1,-0.199,-0.552,-0.36,0,-0.36C0.552,-0.36,1,-0.199,1,0C1,0.199,0.552,0.36,0,0.36C-0.552,0.36,-1,0.199,-1,0Z","size":4356,"angle":25,"filled":true,"color":"#b08633","opacity":0.88,"strokeWidth":0}},
{"data":{"values":[{"t":"2024-10-25","p":77226}]},"mark":{"type":"point","shape":"M-1,0C-1,-0.188,-0.552,-0.34,0,-0.34C0.552,-0.34,1,-0.188,1,0C1,0.188,0.552,0.34,0,0.34C-0.552,0.34,-1,0.188,-1,0Z","size":5776,"angle":-60,"filled":true,"color":"#3f6db4","opacity":0.92,"strokeWidth":0}},
{"data":{"values":[{"t":"2025-03-20","p":88930}]},"mark":{"type":"point","shape":"M-1,0C-1,-0.215,-0.552,-0.39,0,-0.39C0.552,-0.39,1,-0.215,1,0C1,0.215,0.552,0.39,0,0.39C-0.552,0.39,-1,0.215,-1,0Z","size":3249,"angle":27,"filled":true,"color":"#b08633","opacity":0.88,"strokeWidth":0}},
{"data":{"values":[{"t":"2025-07-15","p":120900}]},"mark":{"type":"point","shape":"M-1,0C-1,-0.221,-0.552,-0.4,0,-0.4C0.552,-0.4,1,-0.221,1,0C1,0.221,0.552,0.4,0,0.4C-0.552,0.4,-1,0.221,-1,0Z","size":5476,"angle":-57,"filled":true,"color":"#3f6db4","opacity":0.92,"strokeWidth":0}},
{"data":{"values":[{"line":"upper","t":"2017-08-25","p":17735},{"line":"upper","t":"2026-10-25","p":475400},{"line":"lower","t":"2019-03-11","p":3446},{"line":"lower","t":"2026-10-25","p":78250}]},"mark":{"type":"line","color":"#2f9e3c","strokeWidth":1.4},"encoding":{"detail":{"field":"line"}}},
{"data":{"values":[{"t":"2017-12-07","p":3446},{"t":"2017-12-27","p":4509},{"t":"2018-01-20","p":5605},{"t":"2018-02-24","p":6620},{"t":"2018-04-10","p":7521},{"t":"2018-05-28","p":8021},{"t":"2018-07-12","p":8334},{"t":"2018-09-09","p":8551},{"t":"2018-11-03","p":8662},{"t":"2018-12-08","p":8443},{"t":"2019-01-12","p":7919},{"t":"2019-03-01","p":6789},{"t":"2019-04-05","p":5824},{"t":"2019-04-26","p":5393},{"t":"2019-05-30","p":5393},{"t":"2019-08-21","p":5975},{"t":"2019-10-16","p":6370},{"t":"2019-12-13","p":6789},{"t":"2020-02-10","p":7618},{"t":"2020-04-05","p":8334},{"t":"2020-06-03","p":8551},{"t":"2020-08-01","p":8443},{"t":"2020-09-25","p":8773},{"t":"2020-11-13","p":9350},{"t":"2020-12-28","p":11330},{"t":"2021-02-18","p":15603},{"t":"2021-04-11","p":22898},{"t":"2021-06-08","p":27047},{"t":"2021-08-03","p":31537},{"t":"2021-09-30","p":38212},{"t":"2021-11-28","p":47494},{"t":"2022-01-02","p":48727},{"t":"2022-03-22","p":46296},{"t":"2022-05-20","p":45127},{"t":"2022-07-15","p":43428},{"t":"2022-10-06","p":36773},{"t":"2022-11-30","p":30738},{"t":"2023-01-28","p":26030},{"t":"2023-03-28","p":22321},{"t":"2023-05-22","p":22037},{"t":"2023-07-20","p":22898},{"t":"2023-09-17","p":23793},{"t":"2023-11-11","p":26704},{"t":"2024-01-09","p":29586},{"t":"2024-04-11","p":38212},{"t":"2024-06-06","p":43428},{"t":"2024-08-03","p":49355},{"t":"2024-10-01","p":53981},{"t":"2024-11-25","p":61352},{"t":"2025-01-23","p":69718},{"t":"2025-03-09","p":75300}]},
"mark":{"type":"line","color":"#8c8c8c","strokeWidth":2.6,"interpolate":"monotone"}},
{"data":{"name":"btc"},"mark":{"type":"rule","color":"#ffffff","strokeWidth":1.0},
"encoding":{"y":{"field":"l","type":"quantitative","title":null,"scale":{"type":"log","domain":[2702,3367800],"nice":false},"axis":{"orient":"right","offset":-60,"values":[3200000,2400000,1800000,1300000,900000,660000,500000,380000,280000,200000,150000,110000,33000,25000,19000,14000,10500,7700,5700,4300],"format":",.2f","title":null,"domain":false,"ticks":false,"tickSize":0,"grid":false,"labelPadding":6,"labelAlign":"left","labelBaseline":"middle","labelFont":"DejaVu Sans Condensed, DejaVu Sans, sans-serif","labelFontSize":8,"labelColor":"#c8c8c8","labelOverlap":false,"labelBound":false,"labelFlush":false,"zindex":0}},"y2":{"field":"h"}}},
{"data":{"name":"btc"},"mark":{"type":"rule","color":"#ffffff","strokeWidth":2.0},
"encoding":{"y":{"field":"o","type":"quantitative","title":null,"scale":{"type":"log","domain":[2702,3367800],"nice":false},"axis":{"orient":"right","offset":-60,"values":[3200000,2400000,1800000,1300000,900000,660000,500000,380000,280000,200000,150000,110000,33000,25000,19000,14000,10500,7700,5700,4300],"format":",.2f","title":null,"domain":false,"ticks":false,"tickSize":0,"grid":false,"labelPadding":6,"labelAlign":"left","labelBaseline":"middle","labelFont":"DejaVu Sans Condensed, DejaVu Sans, sans-serif","labelFontSize":8,"labelColor":"#c8c8c8","labelOverlap":false,"labelBound":false,"labelFlush":false,"zindex":0}},"y2":{"field":"c"}}},
{"data":{"values":[{"t":"2019-12-13","p":5824},{"t":"2020-07-01","p":7146},{"t":"2021-07-20","p":25048},{"t":"2023-09-27","p":20154},{"t":"2024-09-07","p":41790},{"t":"2025-03-09","p":60570}]},
"mark":{"type":"point","shape":"M0,-1L0.85,-0.1L0.42,-0.1L0.42,1L-0.42,1L-0.42,-0.1L-0.85,-0.1Z","size":240,"filled":true,"color":"#ec2a66","opacity":1,"strokeWidth":0}},
{"data":{"values":[{"t":"2017-08-25","p":3567800,"label":"stockmoneylizards published on TradingView.com, Mar 15, 2025 17:34 UTC"}]},"mark":{"type":"text","align":"left","baseline":"alphabetic","font":"DejaVu Sans Condensed, DejaVu Sans, sans-serif","fontSize":8,"color":"#cfcfcf"},"encoding":{"text":{"field":"label"}}},
{"data":{"values":[{"t":"2017-11-05","p":1392800,"label":"STOCKMONEY LIZARDS"}]},"mark":{"type":"text","align":"left","baseline":"middle","font":"Liberation Sans, sans-serif","fontSize":9.5,"fontWeight":"bold","fontStyle":"italic","color":"#f0f0f0"},"encoding":{"text":{"field":"label"}}},
{"data":{"values":[{"t":"2017-09-14","p":2926000,"label":"Bitcoin / U.S. Dollar - 1W - CRYPTO"}]},"mark":{"type":"text","align":"left","baseline":"middle","font":"DejaVu Sans Condensed, DejaVu Sans, sans-serif","fontSize":8.5,"color":"#a8a8a8"},"encoding":{"text":{"field":"label"}}},
{"data":{"values":[{"t":"2018-10-24","p":12713,"label":"BEAR MARKET"},{"t":"2022-09-18","p":55390,"label":"BEAR MARKET"}]},"mark":{"type":"text","align":"center","baseline":"middle","font":"Liberation Sans, sans-serif","fontSize":8.8,"fontStyle":"italic","color":"#d3313d"},"encoding":{"text":{"field":"label"}}},
{"data":{"values":[{"t":"2020-05-27","p":18430,"label":"BULL MARKET"},{"t":"2024-06-30","p":132200,"label":"BULL MARKET"}]},"mark":{"type":"text","align":"center","baseline":"middle","font":"Liberation Sans, sans-serif","fontSize":8.8,"fontStyle":"italic","color":"#3fb54a"},"encoding":{"text":{"field":"label"}}},
{"data":{"values":[{"t":"2027-01-14","p":84422.11}]},"mark":{"type":"tick","orient":"horizontal","size":47,"thickness":21,"color":"#ffffff","opacity":1,"yOffset":5.9}},
{"data":{"values":[{"t":"2027-01-14","p":76736.94}]},"mark":{"type":"tick","orient":"horizontal","size":47,"thickness":12,"color":"#f07f7f","opacity":1,"yOffset":15.5}},
{"data":{"values":[{"t":"2027-01-14","p":75602.89}]},"mark":{"type":"tick","orient":"horizontal","size":47,"thickness":12,"color":"#a9c8ee","opacity":1,"yOffset":26.3}},
{"data":{"values":[{"t":"2027-01-14","p":74468.85}]},"mark":{"type":"tick","orient":"horizontal","size":47,"thickness":12,"color":"#92e492","opacity":1,"yOffset":37.1}},
{"data":{"values":[{"t":"2026-11-15","p":84422.11,"label":"84,422.11"}]},"mark":{"type":"text","align":"left","baseline":"middle","font":"DejaVu Sans Condensed, DejaVu Sans, sans-serif","fontSize":8,"color":"#2a2a2a"},"encoding":{"text":{"field":"label"}}},
{"data":{"values":[{"t":"2026-11-15","p":84422.11,"label":"1d 7h"}]},"mark":{"type":"text","align":"left","baseline":"middle","font":"DejaVu Sans Condensed, DejaVu Sans, sans-serif","fontSize":8,"color":"#606060","yOffset":9.5},"encoding":{"text":{"field":"label"}}},
{"data":{"values":[{"t":"2026-11-15","p":76736.94,"label":"76,736.94"}]},"mark":{"type":"text","align":"left","baseline":"middle","font":"DejaVu Sans Condensed, DejaVu Sans, sans-serif","fontSize":8,"color":"#7a1010","yOffset":15.2},"encoding":{"text":{"field":"label"}}},
{"data":{"values":[{"t":"2026-11-15","p":75602.89,"label":"75,602.89"}]},"mark":{"type":"text","align":"left","baseline":"middle","font":"DejaVu Sans Condensed, DejaVu Sans, sans-serif","fontSize":8,"color":"#1f4378","yOffset":25.3},"encoding":{"text":{"field":"label"}}},
{"data":{"values":[{"t":"2026-11-15","p":74468.85,"label":"74,468.85"}]},"mark":{"type":"text","align":"left","baseline":"middle","font":"DejaVu Sans Condensed, DejaVu Sans, sans-serif","fontSize":8,"color":"#1e5e1e","yOffset":35.6},"encoding":{"text":{"field":"label"}}},
{"data":{"values":[{"t":"2017-10-19","p":2303,"label":"TradingView"}]},"mark":{"type":"text","align":"left","baseline":"middle","font":"DejaVu Sans Condensed, DejaVu Sans, sans-serif","fontSize":8.5,"color":"#c0c0c0"},"encoding":{"text":{"field":"label"}}},
{"data":{"values":[{"t":"2024-04-14","p":2881,"label":"❖"}]},"mark":{"type":"text","align":"center","baseline":"middle","font":"DejaVu Sans, sans-serif","fontSize":30,"color":"#d9d9d9"},"encoding":{"text":{"field":"label"}}},
{"data":{"values":[{"t":"2024-06-02","p":2568,"label":"@User-3731c RUKHSANA ..."}]},"mark":{"type":"text","align":"left","baseline":"alphabetic","font":"DejaVu Sans Condensed, DejaVu Sans, sans-serif","fontSize":25,"color":"#f2f2f2"},"encoding":{"text":{"field":"label"}}}
]
}
